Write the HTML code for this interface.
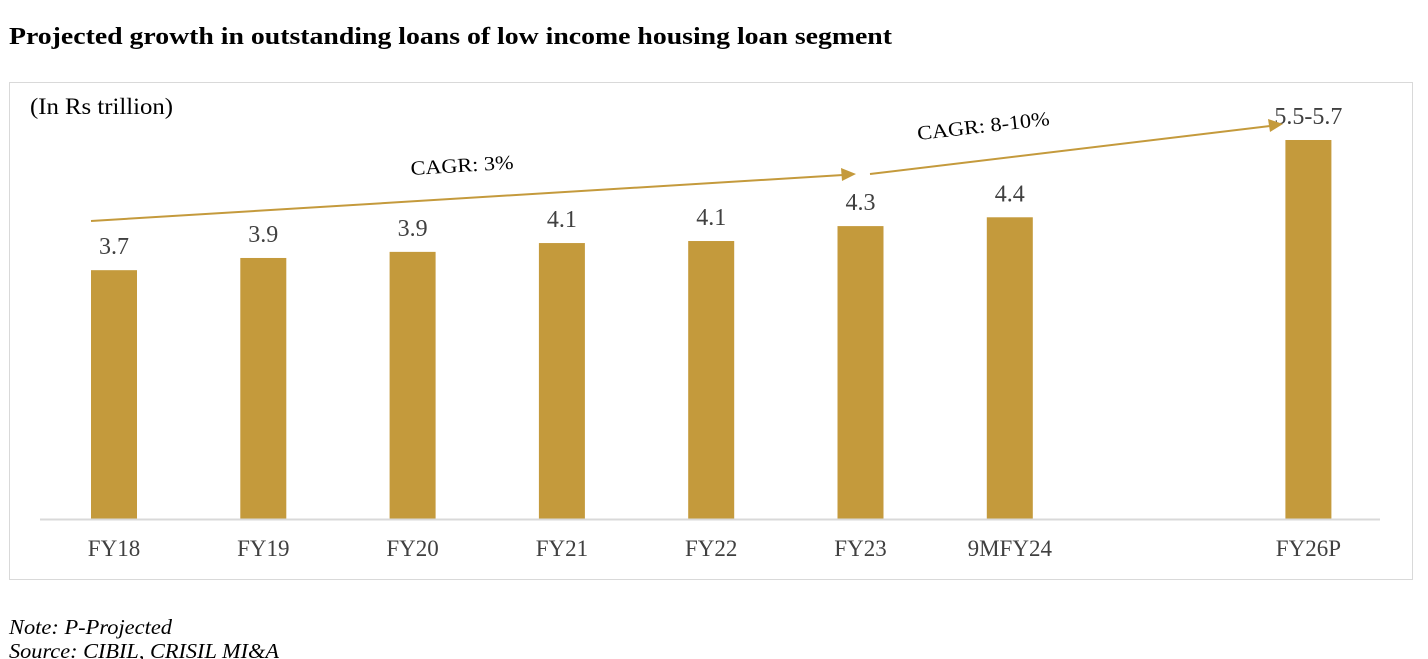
<!DOCTYPE html>
<html><head><meta charset="utf-8"><style>
body{margin:0;width:1428px;height:659px;background:#fff;overflow:hidden;font-family:"Liberation Serif",serif;}
</style></head><body>
<svg width="1428" height="659" style="position:absolute;left:0;top:0">
<text x="9" y="44" font-size="24" font-weight="bold" fill="#000" textLength="883" lengthAdjust="spacingAndGlyphs">Projected growth in outstanding loans of low income housing loan segment</text>
<rect x="9.5" y="82.5" width="1403" height="497" fill="#fff" stroke="#d9d9d9"/>
<text x="30" y="114" font-size="23" fill="#000" textLength="143" lengthAdjust="spacingAndGlyphs">(In Rs trillion)</text>
<g id="bars"></g>
<line x1="40" y1="519.5" x2="1380" y2="519.5" stroke="#d9d9d9" stroke-width="2"/>
<line x1="91" y1="221" x2="843" y2="175" stroke="#c49a3c" stroke-width="2"/>
<polygon points="856,174 841,168 842,181" fill="#c49a3c"/>
<line x1="870" y1="174" x2="1270" y2="126" stroke="#c49a3c" stroke-width="2"/>
<polygon points="1283,124 1268,119 1270,132" fill="#c49a3c"/>
<text x="411" y="175" font-size="20" fill="#000" textLength="103" lengthAdjust="spacingAndGlyphs" transform="rotate(-3.5 411 175)">CAGR: 3%</text>
<text x="918" y="140" font-size="20" fill="#000" textLength="133" lengthAdjust="spacingAndGlyphs" transform="rotate(-6.5 918 140)">CAGR: 8-10%</text>
<text x="9" y="634" font-size="21" font-style="italic" fill="#000" textLength="163" lengthAdjust="spacingAndGlyphs">Note: P-Projected</text>
<text x="9" y="658" font-size="21" font-style="italic" fill="#000" textLength="270" lengthAdjust="spacingAndGlyphs">Source: CIBIL, CRISIL MI&amp;A</text>
</svg>
<script>
const categories=["FY18","FY19","FY20","FY21","FY22","FY23","9MFY24","FY26P"];
const values=[3.67,3.85,3.94,4.07,4.10,4.32,4.45,5.59];
const valueLabels=["3.7","3.9","3.9","4.1","4.1","4.3","4.4","5.5-5.7"];
const slots=[0,1,2,3,4,5,6,8];
const base=519, scale=67.8, x0=114, step=149.3, bw=46;
const y=v=>base-v*scale, xc=i=>x0+slots[i]*step;
const g=document.getElementById('bars');
const ns="http://www.w3.org/2000/svg";
categories.forEach((c,i)=>{
 const r=document.createElementNS(ns,'rect');
 r.setAttribute('x',xc(i)-bw/2);r.setAttribute('y',y(values[i]));
 r.setAttribute('width',bw);r.setAttribute('height',base-y(values[i]));
 r.setAttribute('fill','#c49a3c');
 
 
 g.appendChild(r);
 const t=document.createElementNS(ns,'text');
 t.setAttribute('x',xc(i));t.setAttribute('y',y(values[i])-16);
 t.setAttribute('text-anchor','middle');t.setAttribute('font-size','24');t.setAttribute('fill','#404040');
 t.textContent=valueLabels[i];
 
 
 g.appendChild(t);
 const l=document.createElementNS(ns,'text');
 l.setAttribute('x',xc(i));l.setAttribute('y',556);
 l.setAttribute('text-anchor','middle');l.setAttribute('font-size','23');l.setAttribute('fill','#404040');
 l.textContent=c;
 
 
 g.appendChild(l);
});
</script>
</body></html>
